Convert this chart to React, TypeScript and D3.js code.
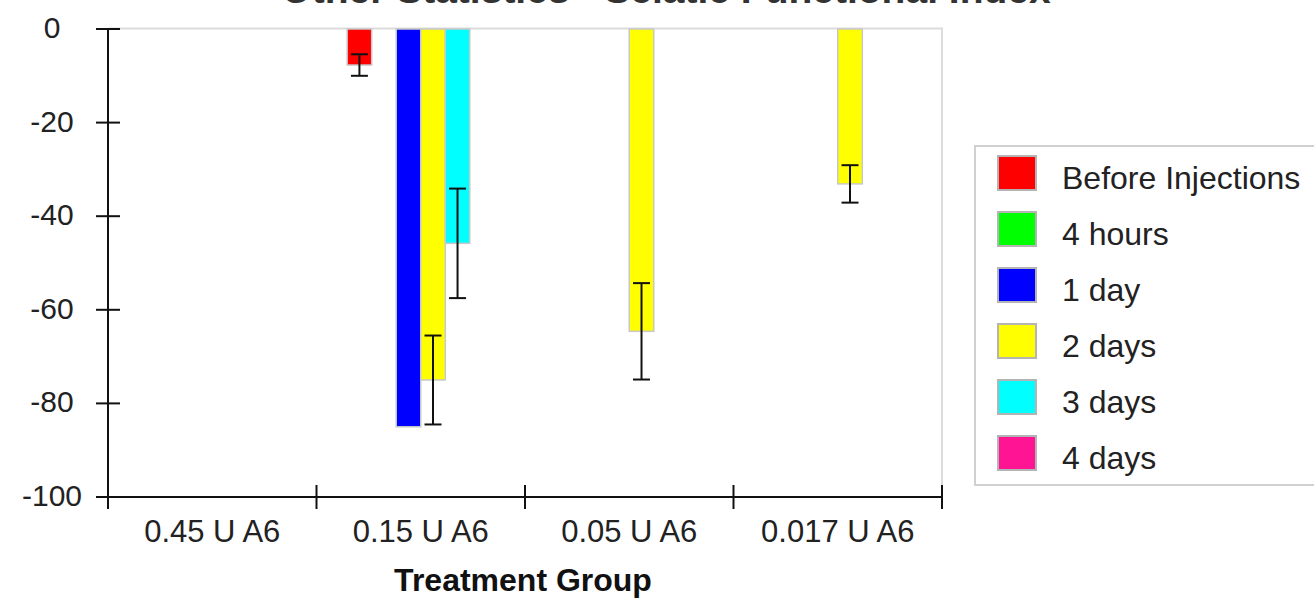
import React from "react";
import * as d3 from "d3";

const groups = ["0.45 U A6", "0.15 U A6", "0.05 U A6", "0.017 U A6"];
const seriesNames = ["Before Injections", "4 hours", "1 day", "2 days", "3 days", "4 days"];
const seriesColors = ["#ff0000", "#00ff00", "#0000ff", "#ffff00", "#00ffff", "#ff1493"];

const beforeInjections = [null, -7.7, null, null];
const fourHours = [null, null, null, null];
const oneDay = [null, -85, null, null];
const twoDays = [null, -75, -64.6, -33.1];
const threeDays = [null, -45.8, null, null];
const fourDays = [null, null, null, null];

const beforeErr = [null, 2.3, null, null];
const fourHoursErr = [null, null, null, null];
const oneDayErr = [null, null, null, null];
const twoDaysErr = [null, 9.5, 10.3, 4.0];
const threeDaysErr = [null, 11.7, null, null];
const fourDaysErr = [null, null, null, null];

const yTicks = [0, -20, -40, -60, -80, -100];

const title = "Other Statistics - Sciatic Functional Index";
const xTitle = "Treatment Group";

const seriesValues = [beforeInjections, fourHours, oneDay, twoDays, threeDays, fourDays];
const seriesErrors = [beforeErr, fourHoursErr, oneDayErr, twoDaysErr, threeDaysErr, fourDaysErr];

export default function App() {
  const W = 1314;
  const H = 601;
  const left = 108;
  const right = 942;
  const top = 29;
  const bottom = 497;
  const font = "Arial, 'Liberation Sans', sans-serif";

  const x0 = d3.scaleBand<string>().domain(groups).range([left, right]).paddingInner(0).paddingOuter(0);
  const x1 = d3
    .scaleBand<string>()
    .domain(seriesNames)
    .range([0, x0.bandwidth()])
    .paddingInner(0)
    .paddingOuter(1.25);
  const y = d3.scaleLinear().domain([-100, 0]).range([bottom, top]);

  const xTickPos = [...groups.map((g) => x0(g) as number), right];

  return (
    <svg
      width={W}
      height={H}
      style={{ position: "absolute", left: 0, top: 0, background: "#fff" }}
      fontFamily={font}
    >
      <rect x={0} y={0} width={W} height={H} fill="#fff" />
      <text x={666} y={3} textAnchor="middle" fontSize={39} fontWeight="bold" fill="#333">
        {title}
      </text>

      {/* plot frame */}
      <polyline
        points={`${left},${top - 0.5} ${right},${top - 0.5} ${right},${bottom}`}
        fill="none"
        stroke="#dcdcdc"
        strokeWidth={2}
      />

      {/* bars */}
      {seriesNames.map((s, si) =>
        groups.map((g, gi) => {
          const v = seriesValues[si][gi];
          if (v === null) return null;
          const bx = (x0(g) as number) + (x1(s) as number);
          const y0 = y(0);
          const y1 = y(v as number);
          return (
            <rect
              key={`b-${si}-${gi}`}
              x={bx}
              y={Math.min(y0, y1)}
              width={x1.bandwidth()}
              height={Math.abs(y1 - y0)}
              fill={seriesColors[si]}
              stroke="#c8c8c8"
              strokeWidth={1.5}
            />
          );
        })
      )}

      {/* error bars */}
      {seriesNames.map((s, si) =>
        groups.map((g, gi) => {
          const v = seriesValues[si][gi];
          const e = seriesErrors[si][gi];
          if (v === null || e === null) return null;
          const cx = (x0(g) as number) + (x1(s) as number) + x1.bandwidth() / 2;
          const ya = y((v as number) + (e as number));
          const yb = y((v as number) - (e as number));
          return (
            <g key={`e-${si}-${gi}`} stroke="#111" strokeWidth={2}>
              <line x1={cx} x2={cx} y1={ya} y2={yb} />
              <line x1={cx - 8.5} x2={cx + 8.5} y1={ya} y2={ya} />
              <line x1={cx - 8.5} x2={cx + 8.5} y1={yb} y2={yb} />
            </g>
          );
        })
      )}

      {/* y axis */}
      <line x1={left} x2={left} y1={top - 1} y2={bottom} stroke="#111" strokeWidth={2} />
      {yTicks.map((t) => (
        <g key={`yt-${t}`}>
          <line x1={96} x2={120} y1={y(t)} y2={y(t)} stroke="#111" strokeWidth={2} />
          <text x={52} y={y(t) + 9} textAnchor="middle" fontSize={30} fill="#222">
            {t}
          </text>
        </g>
      ))}

      {/* x axis */}
      <line x1={left} x2={right} y1={bottom} y2={bottom} stroke="#111" strokeWidth={2} />
      {xTickPos.map((p, i) => (
        <line key={`xt-${i}`} x1={p} x2={p} y1={bottom - 12} y2={bottom + 12} stroke="#111" strokeWidth={2} />
      ))}
      {groups.map((g) => (
        <text
          key={`xl-${g}`}
          x={(x0(g) as number) + x0.bandwidth() / 2}
          y={542}
          textAnchor="middle"
          fontSize={31}
          fill="#222"
        >
          {g}
        </text>
      ))}
      <text x={523} y={591} textAnchor="middle" fontSize={32} fontWeight="bold" fill="#111">
        {xTitle}
      </text>

      {/* legend */}
      <rect x={975} y={146} width={360} height={339} fill="#fff" stroke="#d0d0d0" strokeWidth={2} />
      {seriesNames.map((s, i) => (
        <g key={`lg-${s}`}>
          <rect x={998} y={156 + i * 56} width={38} height={34} fill={seriesColors[i]} stroke="#b4b4b4" strokeWidth={2} />
          <text x={1062} y={189 + i * 56} fontSize={32} fill="#222">
            {s}
          </text>
        </g>
      ))}
    </svg>
  );
}
